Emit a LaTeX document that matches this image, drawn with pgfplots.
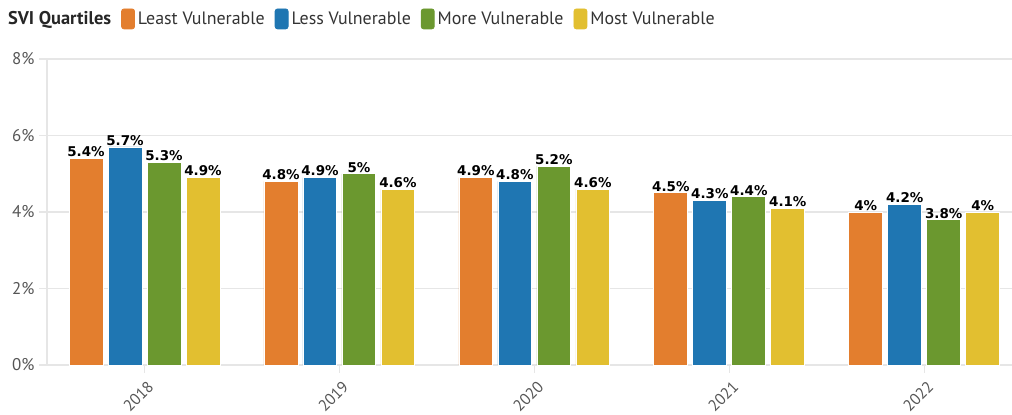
\documentclass[border=0pt]{standalone}
\usepackage{fontspec}
\setmainfont{PT Sans}
\newfontfamily\valuefont{DejaVu Sans}
\usepackage{pgfplots}
\pgfplotsset{compat=1.18}

\definecolor{cLeast}{HTML}{E37E2E}
\definecolor{cLess}{HTML}{1F76B2}
\definecolor{cMore}{HTML}{6B982F}
\definecolor{cMost}{HTML}{E2BF30}
\definecolor{gridgray}{HTML}{E6E6E6}
\definecolor{ticktext}{HTML}{555555}
\definecolor{legtext}{HTML}{333333}

% one bar series per quartile: #1 = fill colour, #2 = offset within the year group
\pgfplotsset{
  quartile/.style 2 args={
    ybar, bar width=0.174, bar shift=#2, fill=#1, draw=white, line width=0.8bp,
    legend image code/.code={\fill[#1, rounded corners=2.5bp] (0bp,-10bp) rectangle (13bp,10bp);},
    nodes near coords={\pgfmathprintnumber{\pgfplotspointmeta}\%},
    point meta=y,
    every node near coord/.append style={
      shift={(axis direction cs:#2,0)},
      font=\valuefont\bfseries\fontsize{13.5}{15}\selectfont,
      text=black, inner sep=1bp, anchor=south},
  },
}

\begin{document}
\begin{tikzpicture}[x=1bp,y=1bp]
\begin{axis}[
  at={(47bp,50bp)}, anchor=south west,
  scale only axis, width=965bp, height=306bp,
  xmin=-0.5, xmax=4.45, ymin=0, ymax=8,
  xtick={0,1,2,3,4},
  xticklabels={2018,2019,2020,2021,2022},
  ytick={0,2,4,6,8},
  yticklabel={\pgfmathprintnumber{\tick}\%},
  /pgf/number format/assume math mode=true,
  axis x line*=bottom, axis y line*=left,
  axis line style={draw=gridgray, line width=1.5bp, -},
  ymajorgrids, grid style={draw=gridgray, line width=1.5bp},
  tick align=outside, major tick length=8bp,
  tick style={draw=gridgray, line width=1.5bp},
  ticklabel style={font=\fontsize{17}{19}\selectfont, text=ticktext},
  x tick label style={font=\fontsize{16}{18}\selectfont, rotate=45, anchor=north east, xshift=0bp, yshift=-3bp},
  y tick label style={xshift=-1bp},
  clip=false,
  legend columns=-1,
  legend style={draw=none, fill=none, inner sep=0pt, outer sep=0pt,
    at={(axis description cs:-0.0435,1.131)}, anchor=west,
    font=\fontsize{18}{20}\selectfont, text=legtext,
    /tikz/every even column/.append style={column sep=8bp},
    /tikz/every odd column/.append style={column sep=1bp},
    legend cell align=left},
  legend entries={{\color{black!85}\bfseries\fontsize{18.5}{20}\selectfont SVI Quartiles\hspace{3bp}},
    Least Vulnerable, Less Vulnerable, More Vulnerable, Most Vulnerable},
]
\addlegendimage{empty legend}
\addplot[quartile={cLeast}{-0.3}] coordinates {(0,5.4) (1,4.8) (2,4.9) (3,4.5) (4,4.0)};
\addplot[quartile={cLess}{-0.1}]  coordinates {(0,5.7) (1,4.9) (2,4.8) (3,4.3) (4,4.2)};
\addplot[quartile={cMore}{0.1}]   coordinates {(0,5.3) (1,5.0) (2,5.2) (3,4.4) (4,3.8)};
\addplot[quartile={cMost}{0.3}]   coordinates {(0,4.9) (1,4.6) (2,4.6) (3,4.1) (4,4.0)};
\end{axis}
\pgfresetboundingbox
\path[use as bounding box] (0,0) rectangle (1012bp,415bp);
\end{tikzpicture}
\end{document}
